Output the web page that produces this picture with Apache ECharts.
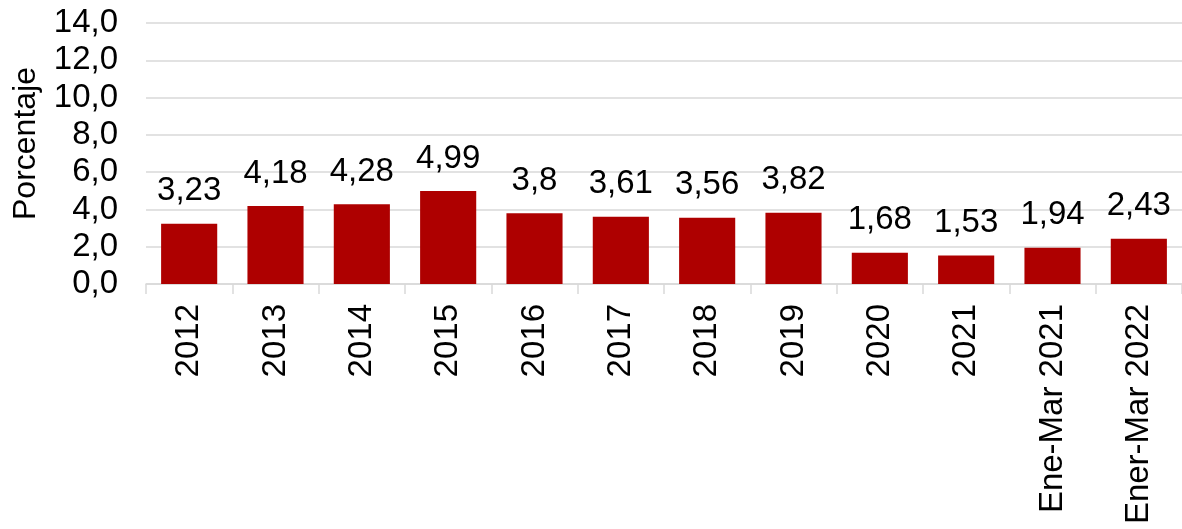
<!DOCTYPE html>
<html><head><meta charset="utf-8">
<script src="https://cdn.jsdelivr.net/npm/echarts@6/dist/echarts.min.js"></script>
<style>html,body{margin:0;padding:0;background:#fff}#c{width:1182px;height:529px}</style>
</head><body><div id="c"></div>
<script>
const categories = ['2012','2013','2014','2015','2016','2017','2018','2019','2020','2021','Ene-Mar 2021','Ener-Mar 2022'];
const values = [3.23,4.18,4.28,4.99,3.8,3.61,3.56,3.82,1.68,1.53,1.94,2.43];
const yTicks = [0,2,4,6,8,10,12,14];
const yName = 'Porcentaje';
const font = '"Liberation Sans", Arial, sans-serif';
const chart = echarts.init(document.getElementById('c'));
chart.setOption({
  animation:false,
  grid:{left:146,right:0,top:23,bottom:245,containLabel:false},
  xAxis:{type:'category',data:categories,
    axisLine:{lineStyle:{color:'#d9d9d9',width:1.5}},
    axisTick:{show:true,length:10,lineStyle:{color:'#d9d9d9',width:1.5}},
    axisLabel:{rotate:90,margin:20,fontSize:33,color:'#000',fontFamily:font}},
  yAxis:{type:'value',min:yTicks[0],max:yTicks[yTicks.length-1],interval:2,
    name:yName,nameLocation:'middle',nameGap:104,nameRotate:90,
    nameTextStyle:{fontSize:32,color:'#000',fontFamily:font,padding:[0,0,0,20]},
    axisLine:{show:false},axisTick:{show:false},
    splitLine:{lineStyle:{color:'#d9d9d9',width:1.5}},
    axisLabel:{margin:28,fontSize:33,color:'#000',fontFamily:font,
      formatter:v=>v.toFixed(1).replace('.',',')}},
  series:[{type:'bar',data:values,barCategoryGap:'35%',
    itemStyle:{color:'#AE0000'},
    label:{show:true,position:'top',distance:16,fontSize:33,color:'#000',fontFamily:font,
      formatter:p=>String(p.value).replace('.',',')}}]
});
</script></body></html>
